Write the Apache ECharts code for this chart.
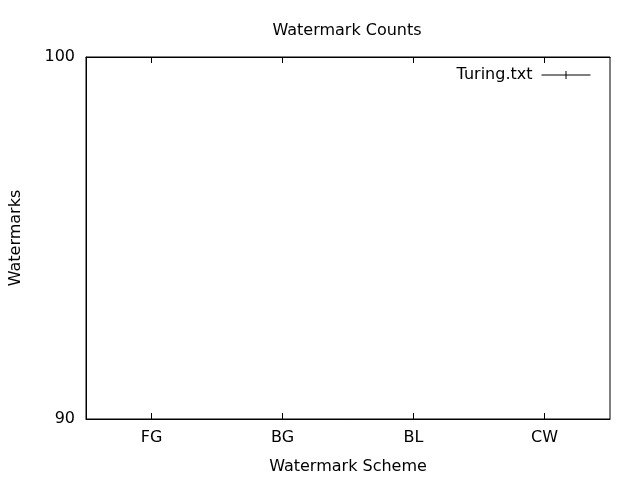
<!DOCTYPE html>
<html>
<head>
<meta charset="utf-8">
<script src="https://cdn.jsdelivr.net/npm/echarts@6/dist/echarts.min.js"></script>
<style>html,body{margin:0;padding:0;background:#fff}#c{width:640px;height:480px}</style>
</head>
<body>
<div id="c"></div>
<script>
const categories = ['FG', 'BG', 'BL', 'CW'];
const seriesName = 'Turing.txt';
// values lie outside the visible 90-100 range, so no marks appear in the plot
const turingValues = [0, 0, 0, 0];
const yTicks = [90, 100];

const chart = echarts.init(document.getElementById('c'), null, {renderer: 'canvas'});
const font = 'DejaVu Sans';
const fs = 16;
const plusIcon = 'path://M0,4L49,4M24.5,0L24.5,8';
chart.setOption({
  animation: false,
  backgroundColor: '#fff',
  textStyle: {fontFamily: font, color: '#000'},
  title: {
    text: 'Watermark Counts',
    left: 342, top: 18, textAlign: 'center',
    textStyle: {fontFamily: font, fontSize: fs, fontWeight: 'normal', color: '#000'}
  },
  legend: {
    data: [{name: seriesName, icon: plusIcon}],
    right: 49, top: 67, padding: 0,
    align: 'right',
    itemWidth: 49, itemHeight: 8,
    itemStyle: {color: 'transparent', borderColor: '#000', borderWidth: 1},
    lineStyle: {width: 0},
    textStyle: {fontFamily: font, fontSize: fs, color: '#000', padding: [0, 4, 0, 0]}
  },
  grid: {left: 85, right: 30, top: 57, bottom: 61, show: true, borderColor: '#000', borderWidth: 1, containLabel: false},
  xAxis: [{
    type: 'category', data: categories, position: 'bottom',
    name: 'Watermark Scheme', nameLocation: 'middle', nameGap: 40,
    nameTextStyle: {fontFamily: font, fontSize: fs, color: '#000'},
    axisLine: {show: true, lineStyle: {color: '#000'}},
    axisTick: {show: true, inside: true, alignWithLabel: true, length: 6, lineStyle: {color: '#000'}},
    axisLabel: {fontFamily: font, fontSize: fs, color: '#000', margin: 11},
    splitLine: {show: false}
  }, {
    type: 'category', data: categories, position: 'top',
    axisLine: {show: true, lineStyle: {color: '#000'}},
    axisTick: {show: true, inside: true, alignWithLabel: true, length: 6, lineStyle: {color: '#000'}},
    axisLabel: {show: false},
    splitLine: {show: false}
  }],
  yAxis: {
    type: 'value', min: yTicks[0], max: yTicks[1], interval: yTicks[1] - yTicks[0],
    name: 'Watermarks', nameLocation: 'middle', nameGap: 62, nameRotate: 90,
    nameTextStyle: {fontFamily: font, fontSize: fs, color: '#000'},
    axisLine: {show: true, lineStyle: {color: '#000'}},
    axisTick: {show: true, inside: true, length: 6, lineStyle: {color: '#000'}},
    axisLabel: {fontFamily: font, fontSize: fs, color: '#000', margin: 11},
    splitLine: {show: false}
  },
  series: [{
    name: seriesName, type: 'line', data: turingValues, clip: true,
    symbol: plusIcon, symbolSize: 8,
    lineStyle: {color: '#000', width: 1},
    itemStyle: {color: '#000'}
  }]
});
</script>
</body>
</html>
